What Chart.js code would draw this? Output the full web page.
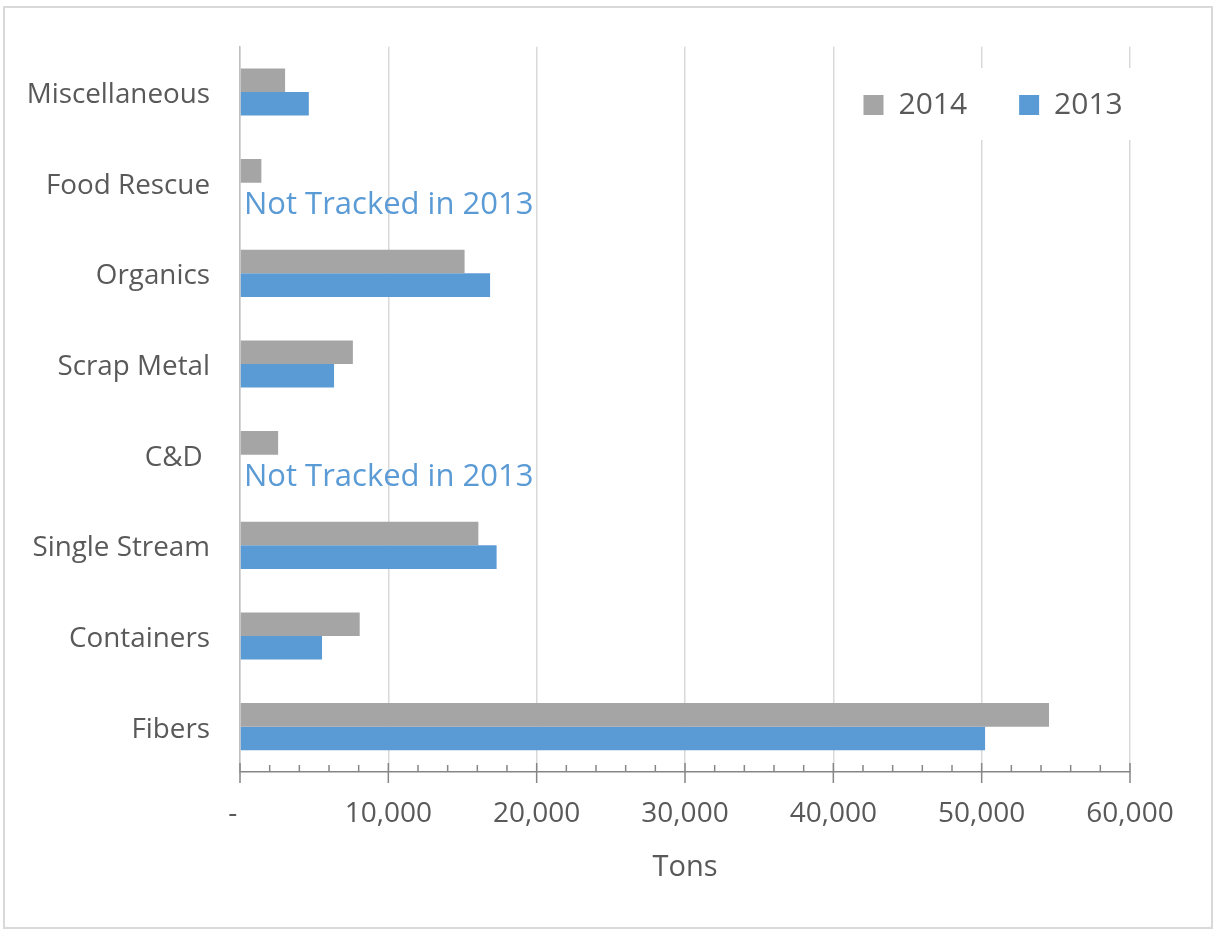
<!DOCTYPE html>
<html lang="en">
<head>
<meta charset="UTF-8">
<title>Tons by material, 2014 vs 2013</title>
<script src="https://cdn.jsdelivr.net/npm/chart.js"></script>
<style>
  body { margin: 0; background: #fff; }
  /* thin frame round the whole chart */
  #frame { position: absolute; left: 3px; top: 6px; width: 1206px; height: 919px; border: 2px solid #d9d9d9; }
  #wrap { position: absolute; left: 0; top: 0; width: 1215px; height: 929px; }
</style>
</head>
<body>
<div id="frame"></div>
<div id="wrap"><canvas id="chart"></canvas></div>

<script>
// Data (tons)
const categories = ['Miscellaneous', 'Food Rescue', 'Organics', 'Scrap Metal', 'C&D ', 'Single Stream', 'Containers', 'Fibers'];
const tons2014 = [3040, 1440, 15140, 7610, 2570, 16070, 8070, 54540];
const tons2013 = [4640, null, 16860, 6340, null, 17300, 5530, 50230];
const notTracked = ['Food Rescue', 'C&D '];
const notTrackedText = 'Not Tracked in 2013';

const textGray = '#595959';
Chart.defaults.font.family = "'Open Sans', sans-serif";
Chart.defaults.color = textGray;

// major ticks cross the axis, minor ticks sit inside
const tickMarks = {
    id: 'tickMarks',
    afterDraw(chart) {
        const x = chart.scales.x;
        const ctx = chart.ctx;
        const y0 = x.top;
        ctx.save();
        ctx.strokeStyle = '#868686';
        ctx.lineWidth = 1.5;
        ctx.beginPath();
        for (let v = x.min; v <= x.max; v += 2000) {
            const px = x.getPixelForValue(v);
            const major = v % 10000 === 0;
            ctx.moveTo(px, y0 - (major ? 9 : 7));
            ctx.lineTo(px, y0 + (major ? 11 : 0));
        }
        ctx.stroke();
        ctx.restore();
    }
};

// "Not Tracked in 2013" notes where the 2013 bar would be
const notTrackedLabels = {
    id: 'notTrackedLabels',
    afterDatasetsDraw(chart) {
        const { x, y } = chart.scales;
        const ctx = chart.ctx;
        ctx.save();
        ctx.font = "31px 'Open Sans'";
        ctx.fillStyle = '#5b9bd5';
        ctx.textAlign = 'left';
        ctx.textBaseline = 'middle';
        notTracked.forEach(cat => {
            const i = categories.indexOf(cat);
            ctx.fillText(notTrackedText, x.getPixelForValue(0) + 4, y.getPixelForValue(i) + 22);
        });
        ctx.restore();
    }
};

// legend sits in the top right of the plot on a white patch
const legendPlace = {
    id: 'legendPlace',
    afterLayout(chart) {
        const lg = chart.legend;
        lg.left = 700;
        lg.top = 38;
        lg.right = 863.5 + lg.lineWidths[0];
        lg.bottom = 170;
    },
    afterDraw(chart) {
        const ctx = chart.ctx;
        ctx.save();
        ctx.fillStyle = '#fff';
        ctx.fillRect(845, 68, 295, 72);
        ctx.restore();
        chart.legend.draw(chart.chartArea);
    }
};

new Chart(document.getElementById('chart'), {
    type: 'bar',
    data: {
        labels: categories,
        datasets: [
            { label: '2014', data: tons2014, backgroundColor: '#a5a5a5', borderWidth: 0 },
            { label: '2013', data: tons2013, backgroundColor: '#5b9bd5', borderWidth: 0 }
        ]
    },
    options: {
        indexAxis: 'y',
        responsive: true,
        maintainAspectRatio: false,
        animation: false,
        categoryPercentage: 0.52,
        barPercentage: 1.0,
        layout: { padding: { left: 0, right: 85, top: 44, bottom: 0 } },
        scales: {
            x: {
                min: 0,
                max: 60000,
                afterFit(s) { s.height = 157; },
                ticks: {
                    stepSize: 10000,
                    maxRotation: 0,
                    padding: 25,
                    color: textGray,
                    font: { size: 28 },
                    callback: v => v === 0 ? '-  ' : v.toLocaleString('en-US')
                },
                grid: { color: '#d9d9d9', lineWidth: 1.5, drawTicks: false },
                border: { display: true, color: '#868686', width: 1.5 },
                title: {
                    display: true,
                    text: 'Tons',
                    color: textGray,
                    font: { size: 29 },
                    padding: { top: 0, bottom: 44 }
                }
            },
            y: {
                afterFit(s) { s.width = 240; },
                ticks: { padding: 30, labelOffset: 3, color: textGray, font: { size: 27.8 } },
                grid: { display: false, drawTicks: false },
                border: { display: true, color: '#bfbfbf', width: 1.5 }
            }
        },
        plugins: {
            legend: {
                position: 'top',
                align: 'end',
                maxHeight: 1,
                labels: {
                    boxWidth: 20,
                    boxHeight: 20,
                    padding: 52,
                    color: textGray,
                    font: { size: 30 }
                }
            },
            tooltip: { enabled: false }
        }
    },
    plugins: [tickMarks, notTrackedLabels, legendPlace]
});
</script>
</body>
</html>
